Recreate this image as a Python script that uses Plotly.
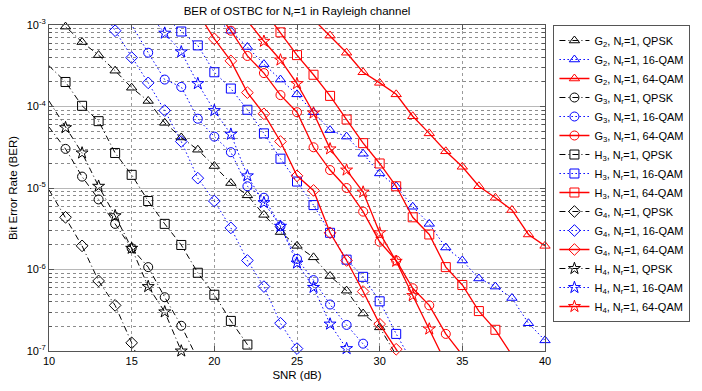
import plotly.graph_objects as go

# ---------------- data (SNR in dB, BER) ----------------
G2_QPSK_snr = list(range(11, 31))
G2_QPSK_ber = [9.55e-4, 6.17e-4, 4.27e-4, 2.75e-4, 1.70e-4, 1.17e-4, 6.3e-5, 4.17e-5, 2.95e-5, 1.86e-5,
               1.15e-5, 8.13e-6, 4.68e-6, 2.88e-6, 1.95e-6, 1.41e-6, 8.32e-7, 5.50e-7, 2.88e-7, 1.95e-7]
G2_QPSK_ext = ([10, 31], [1.41e-3, 8.9e-8])

G2_16_snr = list(range(21, 41))
G2_16_ber = [8.5e-4, 5.37e-4, 3.31e-4, 2.14e-4, 1.41e-4, 8.51e-5, 5.13e-5, 4.27e-5, 2.63e-5, 1.51e-5,
             1.05e-5, 5.89e-6, 3.63e-6, 1.86e-6, 1.29e-6, 7.76e-7, 6.17e-7, 4.47e-7, 2.19e-7, 1.35e-7]
G2_16_ext = ([20], [1.2e-3])

G2_64_snr = list(range(27, 41))
G2_64_ber = [7.41e-4, 4.57e-4, 2.63e-4, 1.95e-4, 1.41e-4, 7.59e-5, 4.68e-5, 2.82e-5, 1.82e-5, 1.05e-5,
             7.59e-6, 5.37e-6, 2.69e-6, 1.95e-6]
G2_64_ext = ([26], [1.17e-3])

G3_QPSK_snr = list(range(11, 19))
G3_QPSK_ber = [3.02e-5, 1.38e-5, 7.24e-6, 3.63e-6, 1.82e-6, 1.07e-6, 4.57e-7, 2.04e-7]
G3_QPSK_ext = ([10, 19], [5.6e-5, 7.9e-8])

G3_16_snr = list(range(15, 30))
G3_16_ber = [1.0e-3, 4.57e-4, 2.14e-4, 1.74e-4, 7.08e-5, 4.27e-5, 2.75e-5, 1.05e-5, 7.59e-6, 3.39e-6,
             1.35e-6, 7.41e-7, 3.72e-7, 2.09e-7, 1.23e-7]
G3_16_ext = ([14, 30], [2.0e-3, 7.1e-8])

G3_64_snr = list(range(21, 35))
G3_64_ber = [8.51e-4, 4.17e-4, 2.57e-4, 1.38e-4, 8.51e-5, 3.16e-5, 1.66e-5, 1.0e-5, 5.13e-6, 2.19e-6,
             1.29e-6, 5.89e-7, 3.63e-7, 1.62e-7]
G3_64_ext = ([20, 35], [1.58e-3, 8.9e-8])

H3_QPSK_snr = list(range(11, 23))
H3_QPSK_ber = [2.0e-4, 1.02e-4, 6.61e-5, 2.69e-5, 1.45e-5, 6.92e-6, 3.63e-6, 2.0e-6, 9.12e-7, 4.9e-7,
               2.34e-7, 1.2e-7]
H3_QPSK_ext = ([10, 23], [3.16e-4, 5.6e-8])

H3_16_snr = list(range(18, 32))
H3_16_ber = [8.32e-4, 5.62e-4, 2.63e-4, 1.66e-4, 9.12e-5, 4.68e-5, 2.29e-5, 1.2e-5, 6.17e-6, 2.82e-6,
             1.32e-6, 8.13e-7, 4.07e-7, 1.62e-7]
H3_16_ext = ([17, 32], [1.26e-3, 7.1e-8])

H3_64_snr = list(range(24, 38))
H3_64_ber = [8.13e-4, 4.27e-4, 2.45e-4, 1.35e-4, 6.92e-5, 3.55e-5, 2.0e-5, 1.05e-5, 4.37e-6, 2.69e-6,
             1.07e-6, 6.46e-7, 3.09e-7, 1.82e-7]
H3_64_ext = ([23, 38], [1.5e-3, 8.9e-8])

G4_QPSK_snr = list(range(11, 16))
G4_QPSK_ber = [4.37e-6, 1.95e-6, 7.24e-7, 3.63e-7, 1.26e-7]
G4_QPSK_ext = ([10, 16], [9.5e-6, 4.0e-8])

G4_16_snr = list(range(14, 26))
G4_16_ber = [8.51e-4, 3.98e-4, 1.95e-4, 8.91e-5, 3.72e-5, 1.32e-5, 6.92e-6, 3.24e-6, 1.29e-6, 6.17e-7,
             2.19e-7, 1.07e-7]
G4_16_ext = ([13, 26], [1.78e-3, 4.5e-8])

G4_64_snr = list(range(20, 32))
G4_64_ber = [6.76e-4, 3.63e-4, 1.48e-4, 8.13e-5, 3.72e-5, 1.41e-5, 9.33e-6, 2.82e-6, 1.29e-6, 5.37e-7,
             2.14e-7, 1.05e-7]
G4_64_ext = ([19, 32], [1.41e-3, 5.0e-8])

H4_QPSK_snr = list(range(11, 19))
H4_QPSK_ber = [5.5e-5, 2.69e-5, 1.05e-5, 4.57e-6, 1.82e-6, 6.17e-7, 3.02e-7, 1.0e-7]
H4_QPSK_ext = ([10, 19], [1.17e-4, 4.0e-8])

H4_16_snr = list(range(17, 29))
H4_16_ber = [7.94e-4, 4.68e-4, 1.91e-4, 8.91e-5, 4.57e-5, 1.41e-5, 6.61e-6, 3.39e-6, 1.2e-6, 6.03e-7,
             2.14e-7, 1.07e-7]
H4_16_ext = ([16, 29], [1.41e-3, 5.0e-8])

H4_64_snr = list(range(23, 34))
H4_64_ber = [6.31e-4, 3.72e-4, 1.91e-4, 8.32e-5, 3.02e-5, 1.66e-5, 8.91e-6, 2.82e-6, 1.26e-6, 4.79e-7,
             1.86e-7]
H4_64_ext = ([22, 34], [1.12e-3, 7.1e-8])

y_tick_vals = [1e-7, 1e-6, 1e-5, 1e-4, 1e-3]
y_tick_text = ["10<sup>-7</sup>", "10<sup>-6</sup>", "10<sup>-5</sup>", "10<sup>-4</sup>", "10<sup>-3</sup>"]
x_tick_vals = [10, 15, 20, 25, 30, 35, 40]

series = [
    ("G", "2", "QPSK", G2_QPSK_snr, G2_QPSK_ber, G2_QPSK_ext, "triangle-up-open"),
    ("G", "2", "16-QAM", G2_16_snr, G2_16_ber, G2_16_ext, "triangle-up-open"),
    ("G", "2", "64-QAM", G2_64_snr, G2_64_ber, G2_64_ext, "triangle-up-open"),
    ("G", "3", "QPSK", G3_QPSK_snr, G3_QPSK_ber, G3_QPSK_ext, "circle-open"),
    ("G", "3", "16-QAM", G3_16_snr, G3_16_ber, G3_16_ext, "circle-open"),
    ("G", "3", "64-QAM", G3_64_snr, G3_64_ber, G3_64_ext, "circle-open"),
    ("H", "3", "QPSK", H3_QPSK_snr, H3_QPSK_ber, H3_QPSK_ext, "square-open"),
    ("H", "3", "16-QAM", H3_16_snr, H3_16_ber, H3_16_ext, "square-open"),
    ("H", "3", "64-QAM", H3_64_snr, H3_64_ber, H3_64_ext, "square-open"),
    ("G", "4", "QPSK", G4_QPSK_snr, G4_QPSK_ber, G4_QPSK_ext, "diamond-open"),
    ("G", "4", "16-QAM", G4_16_snr, G4_16_ber, G4_16_ext, "diamond-open"),
    ("G", "4", "64-QAM", G4_64_snr, G4_64_ber, G4_64_ext, "diamond-open"),
    ("H", "4", "QPSK", H4_QPSK_snr, H4_QPSK_ber, H4_QPSK_ext, "star-open"),
    ("H", "4", "16-QAM", H4_16_snr, H4_16_ber, H4_16_ext, "star-open"),
    ("H", "4", "64-QAM", H4_64_snr, H4_64_ber, H4_64_ext, "star-open"),
]

style = {
    "QPSK": dict(color="#000000", dash="6px,3px,1px,3px", width=1),
    "16-QAM": dict(color="#0000ff", dash="1.5px,2.5px", width=1),
    "64-QAM": dict(color="#ff0000", dash="solid", width=1.3),
}

fig = go.Figure()
for code, idx, mod, snr, ber, ext, sym in series:
    st = style[mod]
    ex, ey = ext
    pts = sorted(list(zip(snr, ber)) + list(zip(ex, ey)))
    lx = [p[0] for p in pts]
    ly = [p[1] for p in pts]
    name = f"{code}<sub>{idx}</sub>, N<sub>r</sub>=1, {mod}"
    # line through all points (incl. extension beyond axes)
    fig.add_trace(go.Scatter(x=lx, y=ly, mode="lines", showlegend=False, hoverinfo="skip",
                             line=dict(color=st["color"], dash=st["dash"], width=st["width"])))
    # markers at simulated points
    fig.add_trace(go.Scatter(x=snr, y=ber, mode="markers", showlegend=False, cliponaxis=False,
                             marker=dict(symbol=sym, size=9, color=st["color"],
                                         line=dict(color=st["color"], width=1))))
    # legend entry
    fig.add_trace(go.Scatter(x=[None], y=[None], mode="lines+markers", name=name,
                             line=dict(color=st["color"], dash=st["dash"], width=st["width"]),
                             marker=dict(symbol=sym, size=9, color=st["color"],
                                         line=dict(color=st["color"], width=1))))

minor_y = []
for e in range(-7, -3):
    for m in range(2, 10):
        minor_y.append(m * 10 ** e)

axis_col = "#555555"
fig.update_layout(
    width=702, height=391,
    margin=dict(l=49, r=153, t=25, b=32),
    paper_bgcolor="white", plot_bgcolor="white",
    font=dict(family="Liberation Sans, Arial, sans-serif", size=11, color="#000"),
    title=dict(text="BER of OSTBC for N<sub>r</sub>=1 in Rayleigh channel",
               x=0.5, xref="paper", xanchor="center",
               y=1 - 11 / 391, yref="container", yanchor="middle",
               font=dict(size=11.5, color="#000")),
    xaxis=dict(range=[10, 40], tickvals=x_tick_vals, showline=True, linecolor=axis_col, linewidth=1,
               mirror="ticks", ticks="inside", ticklen=5, tickcolor=axis_col,
               showgrid=True, gridcolor="#9a9a9a", griddash="dot", gridwidth=1, zeroline=False,
               title=dict(text="SNR (dB)", standoff=4, font=dict(size=11.5))),
    yaxis=dict(type="log", range=[-7, -3], tickvals=y_tick_vals, ticktext=y_tick_text,
               showline=True, linecolor=axis_col, linewidth=1, mirror="ticks",
               ticks="inside", ticklen=5, tickcolor=axis_col,
               showgrid=True, gridcolor="#b8b8b8", gridwidth=1, zeroline=False,
               minor=dict(tickmode="array", tickvals=minor_y, showgrid=True, gridcolor="#8c8c8c",
                          griddash="dot", gridwidth=1, ticks="inside", ticklen=3, tickcolor=axis_col),
               title=dict(text="Bit Error Rate (BER)", standoff=6, font=dict(size=11.5))),
    legend=dict(x=1.017, y=1.0, xanchor="left", yanchor="top", bgcolor="white",
                bordercolor=axis_col, borderwidth=1, font=dict(size=11),
                tracegroupgap=0, itemwidth=30),
)

fig.write_html("out.html")
